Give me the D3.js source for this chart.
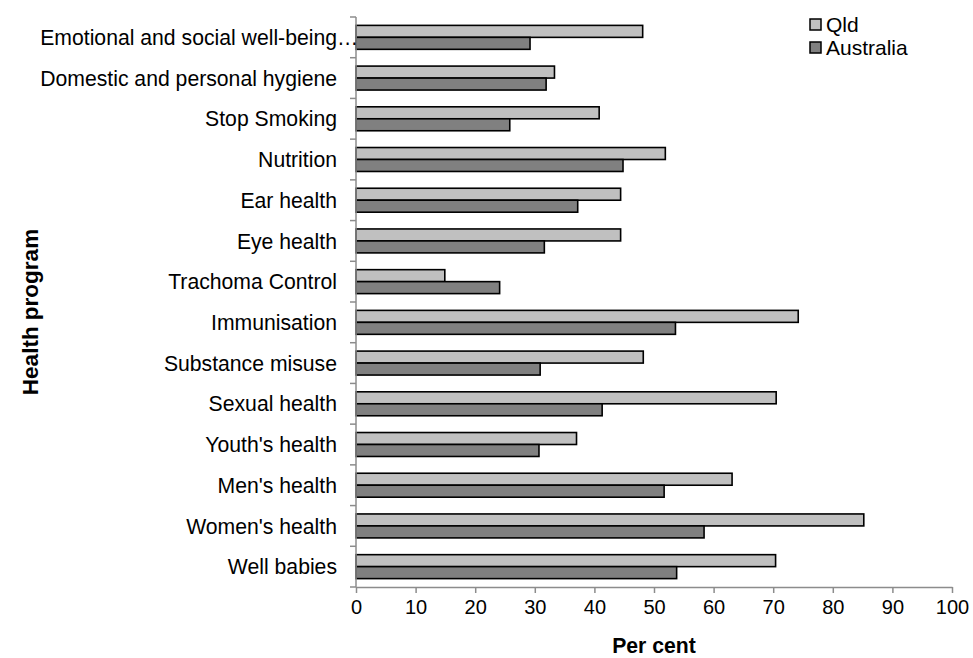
<!DOCTYPE html>
<html>
<head>
<meta charset="utf-8">
<script src="https://cdn.jsdelivr.net/npm/d3@7"></script>
<style>
  html, body { margin: 0; padding: 0; background: #fff; }
  svg { display: block; font-family: Arial, "Liberation Sans", sans-serif; }
</style>
</head>
<body>
<svg id="chart" width="973" height="658"></svg>
<script>
const categories = [
  "Emotional and social well-being",
  "Domestic and personal hygiene",
  "Stop Smoking",
  "Nutrition",
  "Ear health",
  "Eye health",
  "Trachoma Control",
  "Immunisation",
  "Substance misuse",
  "Sexual health",
  "Youth's health",
  "Men's health",
  "Women's health",
  "Well babies"
];
const seriesNames = ["Qld", "Australia"];
const qldValues = [48.1, 33.3, 40.8, 51.9, 44.4, 44.4, 14.9, 74.2, 48.2, 70.5, 37.0, 63.1, 85.2, 70.4];
const ausValues = [29.2, 31.9, 25.8, 44.8, 37.2, 31.6, 24.1, 53.6, 30.9, 41.3, 30.7, 51.7, 58.4, 53.8];
const xTicks = [0, 10, 20, 30, 40, 50, 60, 70, 80, 90, 100];
const colors = { "Qld": "#c0c0c0", "Australia": "#808080" };

const svg = d3.select("#chart");
const axisColor = "#8c8c8c";

const x = d3.scaleLinear().domain([0, 100]).range([356, 952]);
const y = d3.scaleBand().domain(categories).range([17, 587]).padding(0);
const y1 = d3.scaleBand().domain(seriesNames).range([0, y.bandwidth()]).paddingInner(0).paddingOuter(0.7);

const data = categories.map((c, i) => ({ cat: c, values: [
  { key: "Qld", value: qldValues[i] },
  { key: "Australia", value: ausValues[i] }
]}));

// bars
const groups = svg.append("g").selectAll("g").data(data).join("g")
  .attr("transform", d => `translate(0,${y(d.cat)})`);
groups.selectAll("rect").data(d => d.values).join("rect")
  .attr("x", x(0))
  .attr("y", d => y1(d.key))
  .attr("width", d => x(d.value) - x(0))
  .attr("height", y1.bandwidth())
  .attr("fill", d => colors[d.key])
  .attr("stroke", "#000")
  .attr("stroke-width", 1.6);

// x axis
const xAxis = svg.append("g").attr("transform", `translate(0,587)`)
  .call(d3.axisBottom(x).tickValues(xTicks).tickSize(6).tickSizeOuter(0).tickPadding(7));
xAxis.select(".domain").attr("stroke", axisColor).attr("stroke-width", 1.5);
xAxis.selectAll(".tick line").attr("stroke", axisColor).attr("stroke-width", 1.5);
xAxis.selectAll(".tick text").attr("font-size", 20).attr("fill", "#000")
  .attr("font-family", "Arial, 'Liberation Sans', sans-serif");

// y axis (ticks at band boundaries)
const yAxisG = svg.append("g");
yAxisG.append("line").attr("x1", x(0)).attr("x2", x(0)).attr("y1", 17).attr("y2", 587)
  .attr("stroke", axisColor).attr("stroke-width", 1.5);
const boundaries = categories.map(c => y(c)).concat([y.range()[1]]);
yAxisG.selectAll("line.tk").data(boundaries).join("line").attr("class", "tk")
  .attr("x1", x(0) - 6).attr("x2", x(0)).attr("y1", d => d).attr("y2", d => d)
  .attr("stroke", axisColor).attr("stroke-width", 1.5);

// category labels
svg.append("g").selectAll("text").data(categories).join("text")
  .attr("x", 337)
  .attr("y", d => y(d) + y.bandwidth() / 2)
  .attr("dy", "0.36em")
  .attr("text-anchor", "end")
  .attr("font-size", 21.2)
  .attr("fill", "#000")
  .text(d => d);
// ellipsis for truncated first label
svg.append("text")
  .attr("x", 337).attr("y", y(categories[0]) + y.bandwidth() / 2).attr("dy", "0.36em")
  .attr("font-size", 21.2).attr("fill", "#000").text("\u2026");

// axis titles
svg.append("text")
  .attr("x", 654).attr("y", 653)
  .attr("text-anchor", "middle").attr("font-weight", "bold").attr("font-size", 21.2)
  .text("Per cent");
svg.append("text")
  .attr("transform", "translate(38,312) rotate(-90)")
  .attr("text-anchor", "middle").attr("font-weight", "bold").attr("font-size", 22.5)
  .text("Health program");

// legend
const legend = svg.append("g").selectAll("g").data(seriesNames).join("g")
  .attr("transform", (d, i) => `translate(810,${19 + i * 23})`);
legend.append("rect").attr("width", 11).attr("height", 11)
  .attr("fill", d => colors[d]).attr("stroke", "#000").attr("stroke-width", 1.5);
legend.append("text").attr("x", 16).attr("y", 5.5).attr("dy", "0.36em")
  .attr("font-size", 21).attr("fill", "#000").text(d => d);
</script>
</body>
</html>
